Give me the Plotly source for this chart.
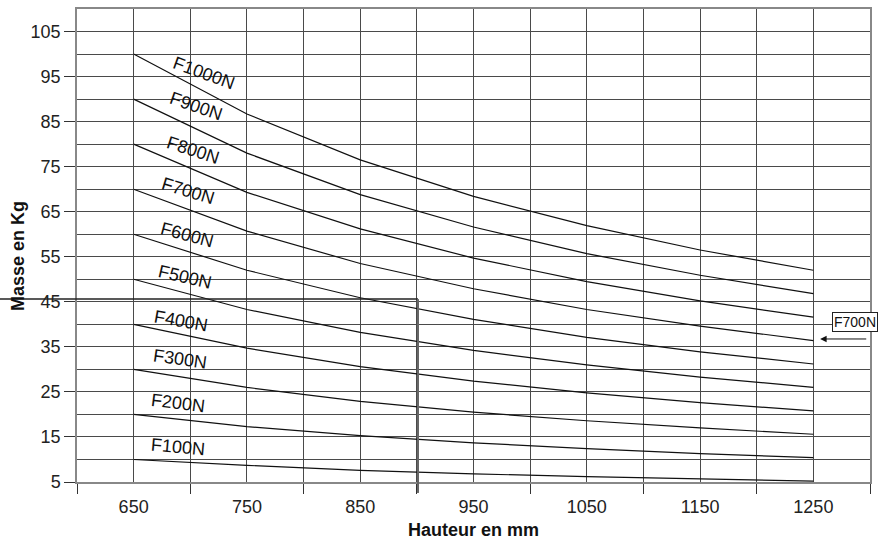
import plotly.graph_objects as go

# ---- data ----
hauteur = [650, 750, 850, 950, 1050, 1150, 1250]
series_names = ["F100N", "F200N", "F300N", "F400N", "F500N",
                "F600N", "F700N", "F800N", "F900N", "F1000N"]
F100N = [10, 8.7, 7.6, 6.8, 6.2, 5.7, 5.2]
F200N = [20, 17.3, 15.3, 13.7, 12.4, 11.3, 10.4]
F300N = [30, 26.0, 22.9, 20.5, 18.6, 17.0, 15.6]
F400N = [40, 34.7, 30.6, 27.4, 24.8, 22.6, 20.8]
F500N = [50, 43.3, 38.2, 34.2, 31.0, 28.3, 26.0]
F600N = [60, 52.0, 45.9, 41.1, 37.1, 33.9, 31.2]
F700N = [70, 60.7, 53.5, 47.9, 43.3, 39.6, 36.4]
F800N = [80, 69.3, 61.2, 54.7, 49.5, 45.2, 41.6]
F900N = [90, 78.0, 68.8, 61.6, 55.7, 50.9, 46.8]
F1000N = [100, 86.7, 76.5, 68.4, 61.9, 56.5, 52.0]
series_values = [F100N, F200N, F300N, F400N, F500N,
                 F600N, F700N, F800N, F900N, F1000N]

x_ticklabels = [650, 750, 850, 950, 1050, 1150, 1250]
x_majorticks = [600, 700, 800, 900, 1000, 1100, 1200, 1300]
y_ticklabels = [5, 15, 25, 35, 45, 55, 65, 75, 85, 95, 105]
y_minor = [10, 20, 30, 40, 50, 60, 70, 80, 90, 100, 110]

read_x = 901      # reading example: hauteur
read_y = 45.6     # reading example: masse
highlight = "F700N"

# ---- layout / style (not data) ----
X_RANGE = [600, 1300]
Y_RANGE = [5, 110]
FONT = "Liberation Sans, Arial, sans-serif"
GRID = "#4a4a4a"
ML, MR, MT, MB = 77, 9, 7, 58
W, H = 879, 540
pw, ph = W - ML - MR, H - MT - MB

# label placement (x, y, angle)
label_pos = {
    "F1000N": (711.7, 95.9, 20),
    "F900N": (704.6, 88.4, 19),
    "F800N": (702.0, 78.7, 18),
    "F700N": (698.0, 69.6, 17),
    "F600N": (697.5, 59.8, 15),
    "F500N": (695.6, 50.5, 13),
    "F400N": (692.0, 40.8, 10),
    "F300N": (691.0, 32.2, 8),
    "F200N": (689.4, 22.6, 7),
    "F100N": (689.4, 12.7, 5),
}

fig = go.Figure()
for name, vals in zip(series_names, series_values):
    fig.add_trace(go.Scatter(x=hauteur, y=vals, mode="lines", name=name,
                             line=dict(color="#111111", width=1.2),
                             showlegend=False, hoverinfo="skip"))

annotations = []
for name in series_names:
    lx, ly, ang = label_pos[name]
    annotations.append(dict(x=lx, y=ly, xref="x", yref="y", text=name,
                            showarrow=False, textangle=ang,
                            xanchor="center", yanchor="middle",
                            font=dict(family=FONT, size=18, color="#111111")))

# highlight box + arrow
hl_end = series_values[series_names.index(highlight)][-1]
annotations.append(dict(x=1266.5, y=40.6, xref="x", yref="y", text=highlight,
                        showarrow=False, xanchor="left", yanchor="middle",
                        bordercolor="#222222", borderwidth=1, borderpad=1,
                        bgcolor="white",
                        font=dict(family=FONT, size=14, color="#111111")))
annotations.append(dict(x=1256, y=hl_end + 0.35, xref="x", yref="y",
                        ax=1298, ay=hl_end + 0.35, axref="x", ayref="y",
                        text="", showarrow=True, arrowhead=2, arrowsize=1.3,
                        arrowwidth=1, arrowcolor="#111111"))

# axis titles
annotations.append(dict(x=(18 - ML) / pw, y=1 - (255 - MT) / ph,
                        xref="paper", yref="paper", text="<b>Masse en Kg</b>",
                        showarrow=False, textangle=-90,
                        xanchor="center", yanchor="middle",
                        font=dict(family=FONT, size=18, color="#111111")))
annotations.append(dict(x=0.5, y=-(530 - (H - MB)) / ph,
                        xref="paper", yref="paper", text="<b>Hauteur en mm</b>",
                        showarrow=False, xanchor="center", yanchor="middle",
                        font=dict(family=FONT, size=18, color="#111111")))


def to_px(xv):
    return (xv - X_RANGE[0]) / (X_RANGE[1] - X_RANGE[0])


def to_py(yv):
    return (yv - Y_RANGE[0]) / (Y_RANGE[1] - Y_RANGE[0])


shapes = [
    dict(type="line", xref="paper", yref="paper",
         x0=-ML / pw, x1=to_px(read_x), y0=to_py(read_y), y1=to_py(read_y),
         line=dict(color="#222222", width=1.5)),
    dict(type="line", xref="paper", yref="paper",
         x0=to_px(read_x), x1=to_px(read_x), y0=to_py(read_y), y1=-11 / ph,
         line=dict(color="#666666", width=2)),
]

fig.update_layout(
    width=W, height=H,
    margin=dict(l=ML, r=MR, t=MT, b=MB),
    paper_bgcolor="white", plot_bgcolor="white",
    font=dict(family=FONT, size=18, color="#222222"),
    annotations=annotations, shapes=shapes,
    xaxis=dict(range=X_RANGE, tickvals=x_ticklabels,
               ticktext=[str(v) for v in x_ticklabels],
               ticks="", showgrid=True, gridcolor=GRID, gridwidth=1,
               showline=True, linecolor="#888888", linewidth=1.5, mirror=True,
               zeroline=False, ticklabelstandoff=8,
               tickfont=dict(family=FONT, size=18, color="#222222"),
               minor=dict(tickvals=x_majorticks, ticks="outside", ticklen=10,
                          tickcolor="#333333", tickwidth=1,
                          showgrid=True, gridcolor=GRID, gridwidth=1)),
    yaxis=dict(range=Y_RANGE, tickvals=y_ticklabels,
               ticks="outside", ticklen=11, tickcolor="#333333",
               showgrid=True, gridcolor=GRID, gridwidth=1,
               showline=True, linecolor="#888888", linewidth=1.5, mirror=True,
               zeroline=False,
               tickfont=dict(family=FONT, size=18, color="#222222"),
               minor=dict(tickvals=y_minor, ticks="", showgrid=True,
                          gridcolor=GRID, gridwidth=1)),
)

fig.write_html("out.html", config={"displayModeBar": False},
               post_script="document.body.style.margin='0';document.body.style.padding='0';")
